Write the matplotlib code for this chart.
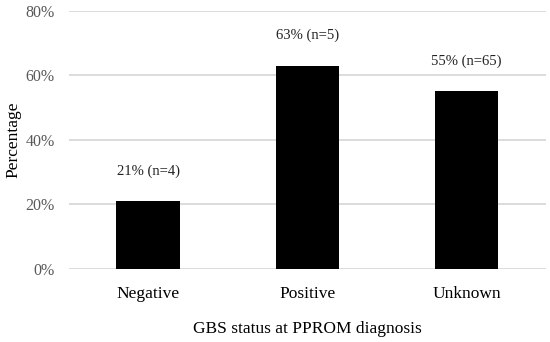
import matplotlib.pyplot as plt

categories = ["Negative", "Positive", "Unknown"]
percentages = [21, 63, 55]
counts = [4, 5, 65]
y_ticks = [0, 20, 40, 60, 80]

plt.rcParams['font.family'] = ['Liberation Serif', 'DejaVu Serif']

fig = plt.figure(figsize=(5.5, 3.42), dpi=100)
ax = fig.add_axes([0.125, 0.2135, 0.868, 0.7555])

x = range(len(categories))
ax.bar(x, percentages, width=0.4, color="black", zorder=3)

# value labels above bars
for xi, p, n in zip(x, percentages, counts):
    ax.annotate(f"{p}% (n={n})", (xi, p), xytext=(0, 17), textcoords="offset points",
                ha="center", va="bottom", fontsize=10.5, color="#222222")

ax.set_xlim(-0.5, len(categories) - 0.5)
ax.set_ylim(0, 80)
ax.set_yticks(y_ticks)
ax.set_yticklabels([f"{v}%" for v in y_ticks], fontsize=11.5, color="#595959")
ax.set_xticks(list(x))
ax.set_xticklabels(categories, fontsize=12.5, color="black")
ax.tick_params(axis="both", length=0)
ax.tick_params(axis="x", pad=12)
ax.tick_params(axis="y", pad=10)

ax.yaxis.grid(True, color="#d9d9d9", linewidth=1.3, zorder=0)
for s in ax.spines.values():
    s.set_visible(False)

ax.set_xlabel("GBS status at PPROM diagnosis", fontsize=12.5, labelpad=14)
ax.set_ylabel("Percentage", fontsize=12.5)
ax.yaxis.set_label_coords(-0.1, 0.5)

fig.savefig("out.png", dpi=100)
